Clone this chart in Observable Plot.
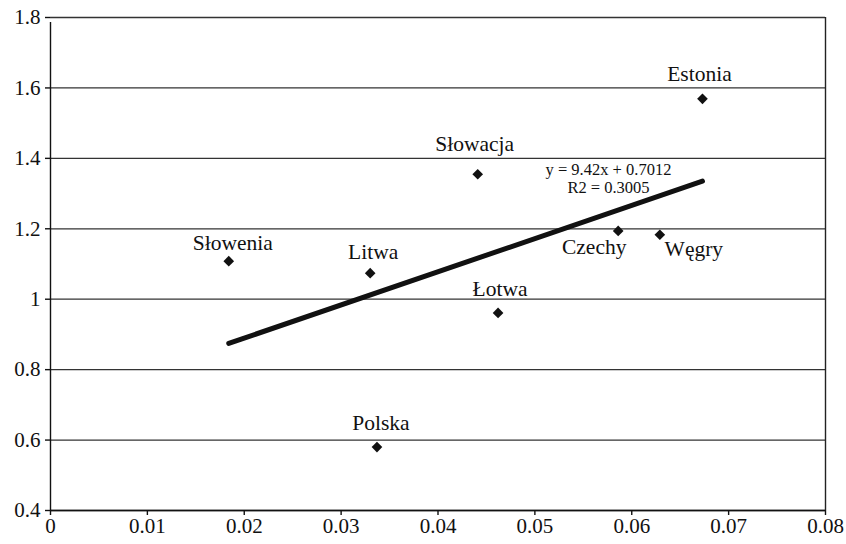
<!DOCTYPE html>
<html>
<head>
<meta charset="utf-8">
<script src="https://cdn.jsdelivr.net/npm/d3@7"></script>
<script src="https://cdn.jsdelivr.net/npm/@observablehq/plot@0.6"></script>
<style>
  html, body { margin: 0; padding: 0; background: #fff; }
</style>
</head>
<body>
<div id="chart"></div>
<script>
// --- Data ---
const countries = ["Estonia", "Słowacja", "Czechy", "Węgry", "Słowenia", "Litwa", "Łotwa", "Polska"];
const xValues   = [0.0673, 0.0441, 0.0586, 0.0629, 0.0184, 0.0330, 0.0462, 0.0337];
const yValues   = [1.569, 1.355, 1.194, 1.183, 1.108, 1.074, 0.961, 0.580];
const trendSlope = 9.42;
const trendIntercept = 0.7012;
const trendR2 = 0.3005;
const xTicks = [0, 0.01, 0.02, 0.03, 0.04, 0.05, 0.06, 0.07, 0.08];
const xTickLabels = ["0", "0.01", "0.02", "0.03", "0.04", "0.05", "0.06", "0.07", "0.08"];
const yTicks = [0.4, 0.6, 0.8, 1.0, 1.2, 1.4, 1.6, 1.8];
const yTickLabels = ["0.4", "0.6", "0.8", "1", "1.2", "1.4", "1.6", "1.8"];

// --- Derived tables ---
const points = countries.map((c, i) => ({country: c, x: xValues[i], y: yValues[i]}));
const xMin = d3.min(xValues), xMax = d3.max(xValues);
const trend = [xMin, xMax].map(x => ({x, y: trendSlope * x + trendIntercept}));
const eqText = [{x: xMax, y: trendSlope * xMax + trendIntercept,
  text: `y = ${trendSlope}x + ${trendIntercept}\nR2 = ${trendR2}`}];

// label placement (pixel offsets relative to each point)
const labelOffsets = {
  "Estonia":  [-3, -25],
  "Słowacja": [-3, -30],
  "Czechy":   [-24, 16],
  "Węgry":    [34, 14],
  "Słowenia": [4, -18],
  "Litwa":    [3, -21],
  "Łotwa":    [2, -24],
  "Polska":   [4, -24]
};

const FONT = "Liberation Serif";

const labelMarks = points.map(p => Plot.text([p], {
  x: "x", y: "y", text: "country",
  dx: labelOffsets[p.country][0], dy: labelOffsets[p.country][1],
  fontSize: 21.5, fill: "#111", textAnchor: "middle", fontFamily: FONT
}));

const chart = Plot.plot({
  width: 846,
  height: 544,
  marginLeft: 50,
  marginRight: 21,
  marginTop: 17,
  marginBottom: 34,
  style: {background: "#fff", color: "#111", fontFamily: FONT},
  x: {domain: [0, 0.08], label: null},
  y: {domain: [0.4, 1.8], label: null},
  marks: [
    Plot.ruleY(yTicks, {stroke: "#333", strokeWidth: 1.3}),
    Plot.ruleX([0.08], {stroke: "#222", strokeWidth: 1.4}),
    Plot.ruleX([0], {stroke: "#111", strokeWidth: 1.4, y1: 0.4, y2: 1.8, insetBottom: -5}),
    Plot.ruleY([0.4], {stroke: "#111", strokeWidth: 1.6}),
    Plot.axisX({ticks: xTicks, tickFormat: (d, i) => xTickLabels[i], tickSize: 5, tickPadding: 3,
      fontSize: 21, stroke: "#111", strokeWidth: 1.4, fill: "#111", label: null, fontFamily: FONT}),
    Plot.axisY({ticks: yTicks, tickFormat: (d, i) => yTickLabels[i], tickSize: 5, tickPadding: 5,
      fontSize: 21, stroke: "#111", strokeWidth: 1.4, fill: "#111", label: null, fontFamily: FONT}),
    Plot.line(trend, {x: "x", y: "y", stroke: "#111", strokeWidth: 5}),
    Plot.dot(points, {x: "x", y: "y", symbol: "diamond2", fill: "#111", stroke: "none", r: 4.8}),
    ...labelMarks,
    Plot.text(eqText, {x: "x", y: "y", text: "text", dx: -94, dy: -3, fontSize: 16.5,
      fill: "#111", textAnchor: "middle", lineHeight: 1.1, fontFamily: FONT})
  ]
});
document.getElementById("chart").appendChild(chart);
</script>
</body>
</html>
